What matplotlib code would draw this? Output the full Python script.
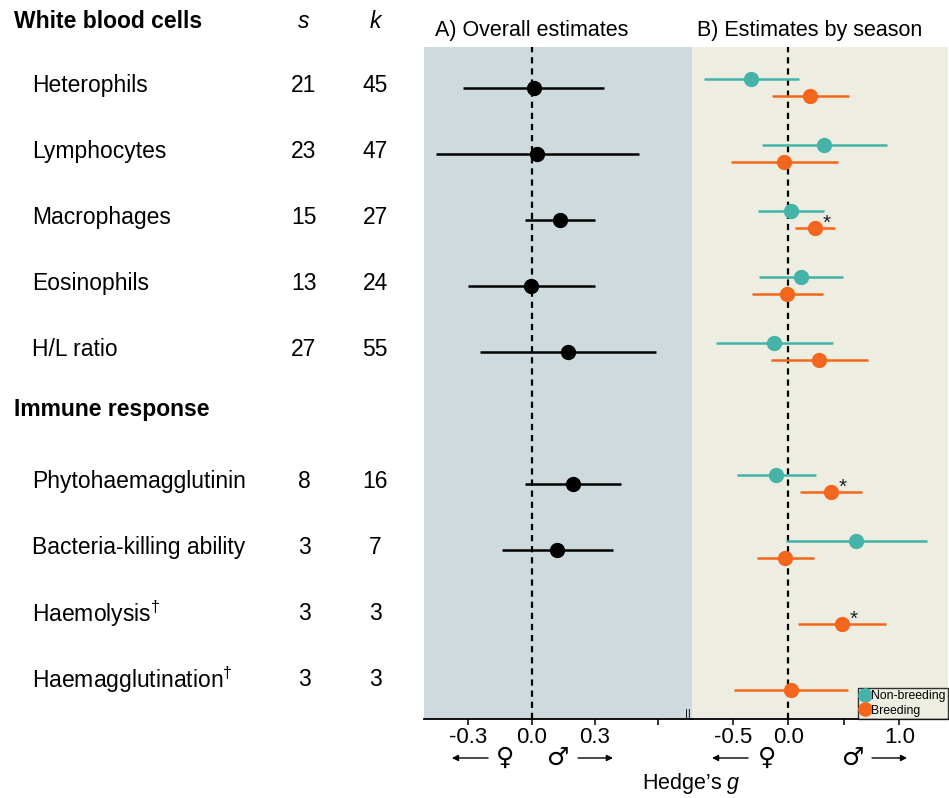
import numpy as np
import matplotlib
matplotlib.use('Agg')
import matplotlib.pyplot as plt
from matplotlib.transforms import blended_transform_factory

plt.rcParams['font.family'] = ['Liberation Sans', 'DejaVu Sans']
plt.rcParams['mathtext.fontset'] = 'custom'
plt.rcParams['mathtext.rm'] = 'Liberation Sans'
plt.rcParams['mathtext.it'] = 'Liberation Sans:italic'

# ---- data ----
groups = ['White blood cells', 'Immune response']
group_sizes = [5, 4]
outcomes = ['Heterophils', 'Lymphocytes', 'Macrophages', 'Eosinophils', 'H/L ratio',
            'Phytohaemagglutinin', 'Bacteria-killing ability',
            r'Haemolysis$^{\dag}$', r'Haemagglutination$^{\dag}$']
s_vals = [21, 23, 15, 13, 27, 8, 3, 3, 3]
k_vals = [45, 47, 27, 24, 55, 16, 7, 3, 3]

nan = np.nan
overall_g = [0.01, 0.027, 0.134, -0.005, 0.172, 0.194, 0.12, nan, nan]
overall_lo = [-0.324, -0.454, -0.03, -0.30, -0.243, -0.033, -0.139, nan, nan]
overall_hi = [0.344, 0.507, 0.298, 0.298, 0.587, 0.423, 0.384, nan, nan]

nonbreed_g = [-0.336, 0.322, 0.024, 0.114, -0.129, -0.111, 0.613, nan, nan]
nonbreed_lo = [-0.766, -0.237, -0.273, -0.264, -0.654, -0.468, -0.024, nan, nan]
nonbreed_hi = [0.096, 0.886, 0.319, 0.493, 0.40, 0.247, 1.252, nan, nan]

breed_g = [0.198, -0.036, 0.243, -0.012, 0.279, 0.385, -0.027, 0.484, 0.021]
breed_lo = [-0.144, -0.52, 0.063, -0.33, -0.156, 0.108, -0.285, 0.09, -0.492]
breed_hi = [0.544, 0.448, 0.423, 0.31, 0.715, 0.661, 0.234, 0.883, 0.535]
breed_sig = [False, False, True, False, False, True, False, True, False]

teal = '#45b3a8'
orange = '#f4661b'

# row layout: header row then items for each group
rows = []
header_rows = []
r = 0
for gs in group_sizes:
    header_rows.append(r)
    rows += list(range(r + 1, r + 1 + gs))
    r += gs + 1
rows = np.array(rows, dtype=float)


def errs(g, lo, hi):
    g, lo, hi = np.array(g), np.array(lo), np.array(hi)
    return np.vstack([g - lo, hi - g])


fig = plt.figure(figsize=(9.49, 7.98), dpi=100)
ax1 = fig.add_axes([0.4468, 0.099, 0.2824, 0.8421])
ax2 = fig.add_axes([0.7292, 0.099, 0.2698, 0.8421])

ax1.set_facecolor('#cfdadf')
ax2.set_facecolor('#edede2')

off = 0.125
ax1.errorbar(overall_g, rows, xerr=errs(overall_g, overall_lo, overall_hi), fmt='o',
             color='black', ms=10, elinewidth=1.8, capsize=0, zorder=3)
ax2.errorbar(nonbreed_g, rows - off, xerr=errs(nonbreed_g, nonbreed_lo, nonbreed_hi), fmt='o',
             color=teal, ms=10, elinewidth=1.8, capsize=0, zorder=3, label='Non-breeding')
ax2.errorbar(breed_g, rows + off, xerr=errs(breed_g, breed_lo, breed_hi), fmt='o',
             color=orange, ms=10, elinewidth=1.8, capsize=0, zorder=3, label='Breeding')
for g, y, sig in zip(breed_g, rows + off, breed_sig):
    if sig:
        ax2.annotate('*', (g, y), xytext=(8.5, 3), textcoords='offset points',
                     ha='center', va='center', fontsize=15, color='#222222')

for ax, lim in [(ax1, (-0.51, 0.76)), (ax2, (-0.87, 1.44))]:
    ax.axvline(0, color='black', ls=(0, (2.8, 2.2)), lw=1.6, zorder=2)
    ax.set_xlim(*lim)
    ax.set_ylim(10.565, 0.383)
    ax.set_yticks([])
    for sp in ['top', 'right', 'left']:
        ax.spines[sp].set_visible(False)
    ax.spines['bottom'].set_linewidth(1.3)
    ax.tick_params(axis='x', direction='out', length=4, width=1.1, labelsize=16, pad=1.5)

ax1.set_xticks([-0.3, 0.0, 0.3, 0.6])
ax1.set_xticklabels(['-0.3', '0.0', '0.3', ''])
ax2.set_xticks([-0.5, 0.0, 0.5, 1.0])
ax2.set_xticklabels(['-0.5', '0.0', '', '1.0'])

# axis break mark
ax1.text(0.997, 0.0, '||', transform=ax1.transAxes, ha='right', va='bottom',
         fontsize=8, color='black')

leg = ax2.legend(loc='lower right', fontsize=8.8, frameon=True, fancybox=False,
                 handlelength=0.7, handletextpad=0.15, borderpad=0.2, labelspacing=0.2,
                 borderaxespad=0.0, markerscale=0.95)
leg.get_frame().set_edgecolor('black')
leg.get_frame().set_linewidth(1.0)
leg.get_frame().set_facecolor('#edede2')
for h in leg.legend_handles:
    h.set_linestyle('')

ax1.text(0.04, 1.025, 'A) Overall estimates', transform=ax1.transAxes, fontsize=15.5,
         ha='left', va='center')
ax2.text(0.02, 1.025, 'B) Estimates by season', transform=ax2.transAxes, fontsize=15.5,
         ha='left', va='center')

# sex arrows below the axes
for ax, a1, fem, mal, a2 in [(ax1, (0.239, 0.104), 0.302, 0.50, (0.575, 0.705)),
                             (ax2, (0.219, 0.078), 0.293, 0.629, (0.703, 0.84))]:
    y = -0.058
    ax.annotate('', xy=(a1[1], y), xytext=(a1[0], y), xycoords='axes fraction',
                arrowprops=dict(arrowstyle='-|>', lw=1.0, color='black', mutation_scale=9,
                                shrinkA=0, shrinkB=0))
    ax.annotate('', xy=(a2[1], y), xytext=(a2[0], y), xycoords='axes fraction',
                arrowprops=dict(arrowstyle='-|>', lw=1.0, color='black', mutation_scale=9,
                                shrinkA=0, shrinkB=0))
    ax.text(fem, y, '\u2640', transform=ax.transAxes, ha='center', va='center',
            fontsize=18, family=['DejaVu Sans'])
    ax.text(mal, y, '\u2642', transform=ax.transAxes, ha='center', va='center',
            fontsize=18, family=['DejaVu Sans'])

fig.text(691 / 949, 1 - 783 / 798, r"Hedge’s $g$", ha='center', va='center', fontsize=15.5)

# left table
tr = blended_transform_factory(fig.transFigure, ax1.transData)
for name, hr in zip(groups, header_rows):
    fig.text(14 / 949, hr - 0.12 * (hr > 0), name, transform=tr, fontsize=16.5,
             fontweight='bold', ha='left', va='center')
fig.text(304 / 949, header_rows[0], 's', transform=tr, fontsize=16.5, style='italic',
         ha='center', va='center')
fig.text(375 / 949, header_rows[0], 'k', transform=tr, fontsize=16.5, style='italic',
         ha='center', va='center')
for name, s, k, y in zip(outcomes, s_vals, k_vals, rows):
    fig.text(32 / 949, y - 0.03, name, transform=tr, fontsize=16.5, ha='left', va='center')
    fig.text(304 / 949, y - 0.03, str(s), transform=tr, fontsize=16.5, ha='center', va='center')
    fig.text(375 / 949, y - 0.03, str(k), transform=tr, fontsize=16.5, ha='center', va='center')

fig.savefig('out.png', dpi=100)
